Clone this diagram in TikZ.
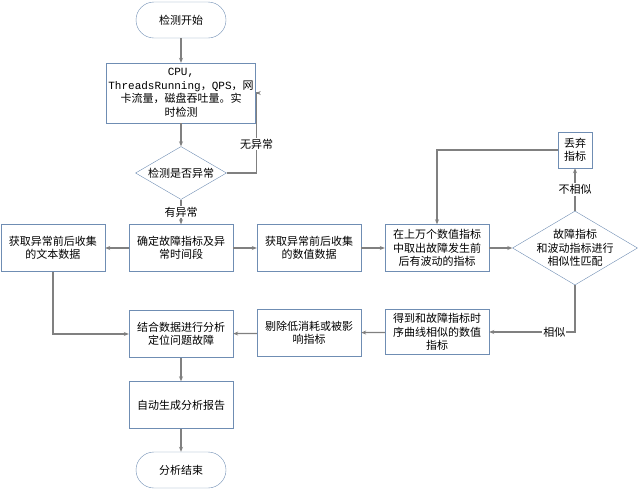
\documentclass[tikz,border=0pt]{standalone}
\usepackage{fontspec}
\setmainfont{Noto Sans CJK SC}
\newfontfamily\monofnt{Liberation Mono}
\usetikzlibrary{arrows.meta,positioning,shapes.geometric}
\definecolor{boxblue}{HTML}{6F8DB3}
\definecolor{linegray}{HTML}{808080}

\begin{document}
\begin{tikzpicture}[x=1pt,y=1pt,node distance=128pt,
  >={Stealth[length=5pt,width=4pt]},font=\fontsize{11}{13.5}\selectfont]
	\tikzstyle{term}=[draw=boxblue, rounded corners=18pt, minimum width=90pt, minimum height=36pt]
	\tikzstyle{proc}=[draw=boxblue, align=center, minimum width=104pt, minimum height=47pt, inner sep=2pt]
	\tikzstyle{dec}=[draw=boxblue, diamond, aspect=1.7, inner sep=0pt, align=center]
	\tikzstyle{line}=[draw=linegray, line width=1.2pt, ->]
	\tikzstyle{lbl}=[fill=white, inner sep=1pt]
	\useasboundingbox (0,0) rectangle (640,-491);

	\node[term] (start) at (181,-20) {检测开始};
	\node[proc, minimum width=142pt, minimum height=60pt] (cpu) [below of=start, node distance=73pt]
		{{\monofnt CPU,}\\{\monofnt ThreadsRunning}，{\monofnt QPS}，网\\卡流量，磁盘吞吐量。实\\时检测};
	\node[dec, minimum width=91pt, minimum height=53pt] (chk) [below of=cpu, node distance=80pt] {检测是否异常};
	\node[proc] (find) [below of=chk, node distance=75pt] {确定故障指标及异\\常时间段};
	\node[proc] (txt) [left of=find] {获取异常前后收集\\的文本数据};
	\node[proc] (num) [right of=find] {获取异常前后收集\\的数值数据};
	\node[proc] (fluct) [right of=num] {在上万个数值指标\\中取出故障发生前\\后有波动的指标};
	\node[dec, minimum width=125pt, minimum height=74pt] (match) [right of=fluct, node distance=138pt]
		{}; 
	\node[align=center] (matchtxt) at (match) {故障指标\\和波动指标进行\\相似性匹配};
	\node[proc, minimum width=34pt, minimum height=36pt] (drop) [above of=match, node distance=98pt] {丢弃\\指标};
	\node[proc, minimum height=45pt] (simi) [below of=fluct, node distance=84pt] {得到和故障指标时\\序曲线相似的数值\\指标};
	\node[proc] (rm) [below of=num, node distance=85pt] {剔除低消耗或被影\\响指标};
	\node[proc] (comb) [below of=find, node distance=86pt] {结合数据进行分析\\定位问题故障};
	\node[proc] (rpt) [below of=comb, node distance=71pt] {自动生成分析报告};
	\node[term] (stop) [below of=rpt, node distance=65pt] {分析结束};

	% main flow
	\draw[line] (start) -- (cpu);
	\draw[line] (cpu) -- (chk);
	\draw[line] (chk) -- node[lbl]{有异常} (find);
	\draw[line] (chk.east) -- ++(30,0) |- node[lbl,pos=0.18]{无异常} (cpu.east);
	\draw[line] (find) -- (txt);
	\draw[line] (find) -- (num);
	\draw[line] (num) -- (fluct);
	\draw[line] (fluct) -- (match);
	\draw[line] (match) -- node[lbl]{不相似} (drop);
	\draw[line] (drop.west) -| (fluct.north);
	\draw[line] (match.south) |- node[lbl,pos=0.62]{相似} (simi.east);
	\draw[line] (simi) -- (rm);
	\draw[line] (rm) -- (comb);
	\draw[line] (txt.south) |- (comb.west);
	\draw[line] (comb) -- (rpt);
	\draw[line] (rpt) -- (stop);
\end{tikzpicture}
\end{document}
